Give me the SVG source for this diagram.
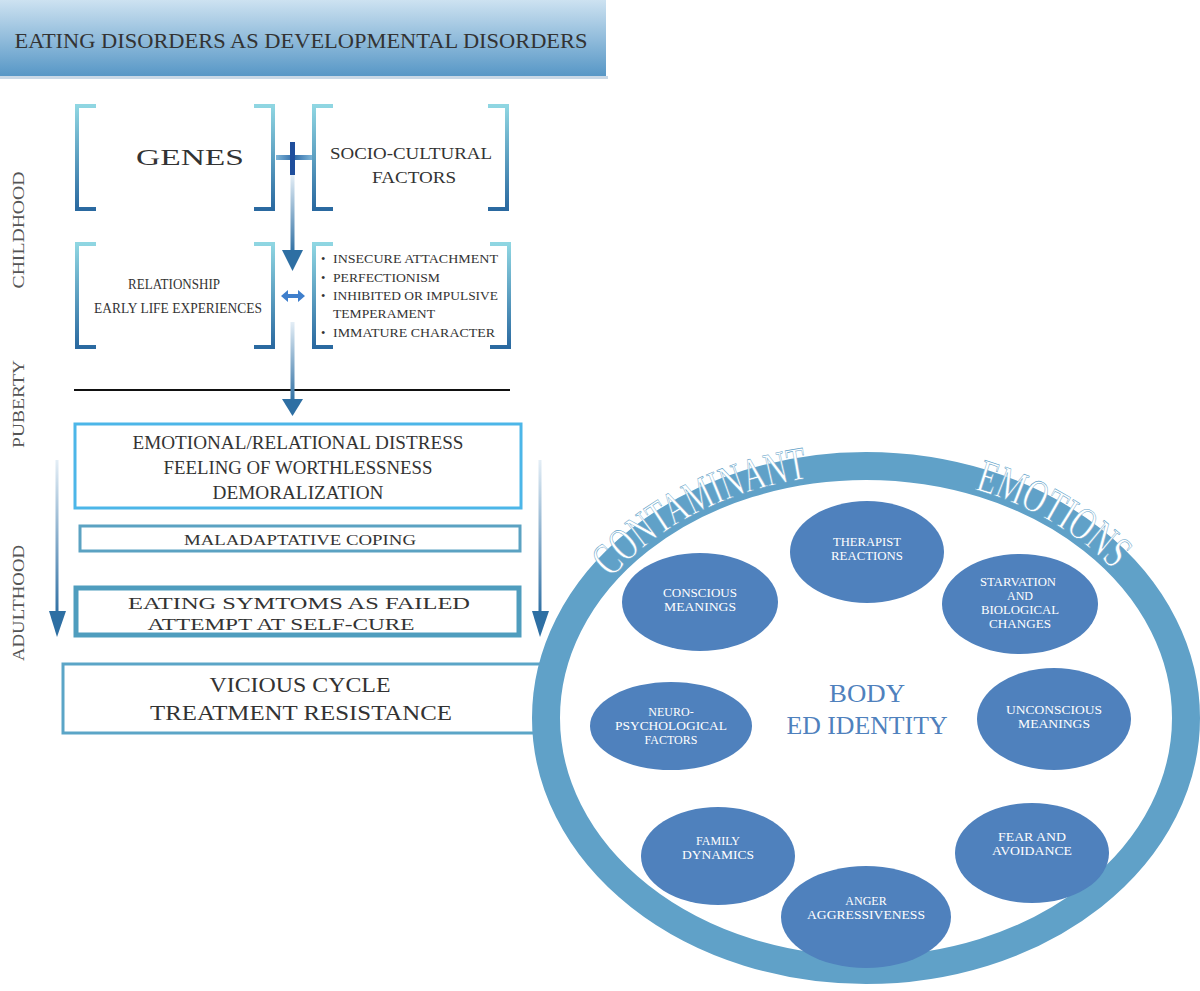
<svg xmlns="http://www.w3.org/2000/svg" width="1200" height="991" viewBox="0 0 1200 991">
<defs>
<linearGradient id="hdr" x1="0" y1="0" x2="0" y2="1"><stop offset="0" stop-color="#cde2f1"/><stop offset="1" stop-color="#5797c6"/></linearGradient>
<linearGradient id="brk" x1="0" y1="0" x2="0" y2="1"><stop offset="0" stop-color="#8fd6e2"/><stop offset="1" stop-color="#2a69a0"/></linearGradient>
<linearGradient id="shaft" x1="0" y1="0" x2="0" y2="1"><stop offset="0" stop-color="#e4eef6"/><stop offset="1" stop-color="#2e6fa3"/></linearGradient>
<linearGradient id="hbar" x1="0" y1="0" x2="1" y2="0"><stop offset="0" stop-color="#7fb6d8"/><stop offset="0.5" stop-color="#2f6aa8"/><stop offset="1" stop-color="#7fb6d8"/></linearGradient>
<path id="arc" d="M 556,716 A 310 242 0 0 1 1176,716"/>
<style>
text{font-family:'Liberation Serif','DejaVu Serif','Times New Roman',serif}
.t{fill:#333;text-anchor:middle}
.lbl{fill:#555;font-size:16px;text-anchor:middle}
.br{fill:none;stroke:url(#brk);stroke-width:4}
.ov{fill:#4f81bd}
.ot{fill:#fff;font-size:12px;text-anchor:middle}
.head{fill:#2e6fa3}
.rt{font-size:47px;fill:#fff;stroke:#60a1c8;stroke-width:0.6}
</style>
</defs>
<rect width="1200" height="991" fill="#fff"/>

<g id="header">
<rect x="0" y="76" width="608" height="3" fill="#c9d8e6"/>
<rect x="0" y="0" width="606" height="76" fill="url(#hdr)"/>
<text class="t" x="301" y="48" font-size="22" fill="#222" textLength="573" lengthAdjust="spacingAndGlyphs">EATING DISORDERS AS DEVELOPMENTAL DISORDERS</text>
</g>

<g id="stage-labels">
<text class="lbl" transform="translate(24,230) rotate(-90)" textLength="117" lengthAdjust="spacingAndGlyphs">CHILDHOOD</text>
<text class="lbl" transform="translate(24,404) rotate(-90)" textLength="88" lengthAdjust="spacingAndGlyphs">PUBERTY</text>
<text class="lbl" transform="translate(24,603) rotate(-90)" textLength="116" lengthAdjust="spacingAndGlyphs">ADULTHOOD</text>
</g>

<g id="genes">
<path class="br" d="M96,106 H77 V209 H96"/>
<path class="br" d="M254,106 H273 V209 H254"/>
<text class="t" x="190" y="165" font-size="23" textLength="108" lengthAdjust="spacingAndGlyphs">GENES</text>
</g>

<g id="socio">
<path class="br" d="M333,106 H314 V209 H333"/>
<path class="br" d="M488,106 H507 V209 H488"/>
<text class="t" x="411" y="159" font-size="17" textLength="162" lengthAdjust="spacingAndGlyphs">SOCIO-CULTURAL</text>
<text class="t" x="414" y="183" font-size="17" textLength="84" lengthAdjust="spacingAndGlyphs">FACTORS</text>
</g>

<g id="relationship">
<path class="br" d="M96,244 H77 V347 H96"/>
<path class="br" d="M254,244 H273 V347 H254"/>
<text class="t" x="174" y="289" font-size="14" textLength="92" lengthAdjust="spacingAndGlyphs">RELATIONSHIP</text>
<text class="t" x="178" y="313" font-size="14" textLength="168" lengthAdjust="spacingAndGlyphs">EARLY LIFE EXPERIENCES</text>
</g>

<g id="traits">
<path class="br" d="M333,244 H314 V347 H333"/>
<path class="br" d="M490,244 H509 V347 H490"/>
<g class="t" font-size="12.5" style="text-anchor:start">
<text x="321" y="263">•</text><text x="333" y="263" textLength="165" lengthAdjust="spacingAndGlyphs">INSECURE ATTACHMENT</text>
<text x="321" y="282">•</text><text x="333" y="282" textLength="107" lengthAdjust="spacingAndGlyphs">PERFECTIONISM</text>
<text x="321" y="300">•</text><text x="333" y="300" textLength="165" lengthAdjust="spacingAndGlyphs">INHIBITED OR IMPULSIVE</text>
<text x="333" y="318" textLength="102" lengthAdjust="spacingAndGlyphs">TEMPERAMENT</text>
<text x="321" y="337">•</text><text x="333" y="337" textLength="162" lengthAdjust="spacingAndGlyphs">IMMATURE CHARACTER</text>
</g>
</g>

<g id="puberty-line">
<line x1="74" y1="390" x2="510" y2="390" stroke="#111" stroke-width="2"/>
</g>

<g id="distress">
<rect x="75" y="424" width="446" height="84" fill="#fff" stroke="#4cb6e8" stroke-width="3"/>
<text class="t" x="298" y="449" font-size="18" textLength="331" lengthAdjust="spacingAndGlyphs">EMOTIONAL/RELATIONAL DISTRESS</text>
<text class="t" x="298" y="474" font-size="18" textLength="269" lengthAdjust="spacingAndGlyphs">FEELING OF WORTHLESSNESS</text>
<text class="t" x="298" y="499" font-size="18" textLength="171" lengthAdjust="spacingAndGlyphs">DEMORALIZATION</text>
</g>

<g id="coping">
<rect x="80" y="526" width="440" height="25" fill="#fff" stroke="#5ba2c2" stroke-width="3"/>
<text class="t" x="300" y="545" font-size="15.5" textLength="232" lengthAdjust="spacingAndGlyphs">MALADAPTATIVE COPING</text>
</g>

<g id="symptoms">
<rect x="76" y="588" width="443" height="47" fill="#fff" stroke="#4f9dbe" stroke-width="5"/>
<text class="t" x="299" y="609" font-size="16.5" textLength="342" lengthAdjust="spacingAndGlyphs">EATING SYMTOMS AS FAILED</text>
<text class="t" x="281" y="630" font-size="16.5" textLength="267" lengthAdjust="spacingAndGlyphs">ATTEMPT AT SELF-CURE</text>
</g>

<g id="vicious">
<rect x="63" y="664" width="500" height="69" fill="#fff" stroke="#5ba5c7" stroke-width="3"/>
<text class="t" x="300" y="692" font-size="21" textLength="181" lengthAdjust="spacingAndGlyphs">VICIOUS CYCLE</text>
<text class="t" x="301" y="720" font-size="21" textLength="302" lengthAdjust="spacingAndGlyphs">TREATMENT RESISTANCE</text>
</g>

<g id="connectors">
<rect x="276" y="155" width="36" height="5" fill="url(#hbar)"/>
<rect x="290" y="142" width="5" height="33" fill="#1f4e9c"/>
<rect x="290.5" y="175" width="4" height="78" fill="url(#shaft)"/>
<path class="head" d="M282,250 H303 L292.5,271 Z"/>
<path d="M281,296 L288,290 V294 H298 V290 L305,296 L298,302 V298 H288 V302 Z" fill="#3f7fcc"/>
<rect x="290.5" y="322" width="4" height="80" fill="url(#shaft)"/>
<path class="head" d="M282,399 H303 L292.5,416 Z"/>
<rect x="55.5" y="460" width="3" height="155" fill="url(#shaft)"/>
<path class="head" d="M49,611 H66 L57,637 Z"/>
<rect x="538.5" y="460" width="3" height="155" fill="url(#shaft)"/>
<path class="head" d="M532,611 H549 L540,637 Z"/>
</g>

<g id="ring">
<ellipse cx="866" cy="718" rx="320" ry="252" fill="#fff" stroke="#60a1c8" stroke-width="28"/>
<text class="rt"><textPath href="#arc" startOffset="152" textLength="225" lengthAdjust="spacingAndGlyphs">CONTAMINANT</textPath></text>
<text class="rt"><textPath href="#arc" startOffset="545" textLength="162" lengthAdjust="spacingAndGlyphs">EMOTIONS</textPath></text>
</g>

<g id="body">
<text class="t" x="867" y="702" font-size="26" style="fill:#4f81bd" textLength="76" lengthAdjust="spacingAndGlyphs">BODY</text>
<text class="t" x="867" y="734" font-size="26" style="fill:#4f81bd" textLength="161" lengthAdjust="spacingAndGlyphs">ED IDENTITY</text>
</g>

<g id="therapist"><ellipse class="ov" cx="867" cy="552" rx="77" ry="51"/>
<text class="ot" x="867" y="546" textLength="68" lengthAdjust="spacingAndGlyphs">THERAPIST</text><text class="ot" x="867" y="560" textLength="72" lengthAdjust="spacingAndGlyphs">REACTIONS</text></g>
<g id="conscious"><ellipse class="ov" cx="700" cy="602" rx="78" ry="49"/>
<text class="ot" x="700" y="597" textLength="74" lengthAdjust="spacingAndGlyphs">CONSCIOUS</text><text class="ot" x="700" y="611" textLength="72" lengthAdjust="spacingAndGlyphs">MEANINGS</text></g>
<g id="starvation"><ellipse class="ov" cx="1020" cy="604" rx="78" ry="50"/>
<text class="ot" x="1018" y="586" textLength="76" lengthAdjust="spacingAndGlyphs">STARVATION</text><text class="ot" x="1020" y="600">AND</text><text class="ot" x="1020" y="614" textLength="78" lengthAdjust="spacingAndGlyphs">BIOLOGICAL</text><text class="ot" x="1020" y="628" textLength="62" lengthAdjust="spacingAndGlyphs">CHANGES</text></g>
<g id="neuro"><ellipse class="ov" cx="671" cy="726" rx="81" ry="44"/>
<text class="ot" x="671" y="716">NEURO-</text><text class="ot" x="671" y="730" textLength="112" lengthAdjust="spacingAndGlyphs">PSYCHOLOGICAL</text><text class="ot" x="671" y="744">FACTORS</text></g>
<g id="unconscious"><ellipse class="ov" cx="1054" cy="719" rx="77" ry="51"/>
<text class="ot" x="1054" y="714" textLength="96" lengthAdjust="spacingAndGlyphs">UNCONSCIOUS</text><text class="ot" x="1054" y="728" textLength="72" lengthAdjust="spacingAndGlyphs">MEANINGS</text></g>
<g id="family"><ellipse class="ov" cx="718" cy="856" rx="77" ry="49"/>
<text class="ot" x="718" y="845">FAMILY</text><text class="ot" x="718" y="859" textLength="72" lengthAdjust="spacingAndGlyphs">DYNAMICS</text></g>
<g id="fear"><ellipse class="ov" cx="1032" cy="853" rx="77" ry="50"/>
<text class="ot" x="1032" y="841" textLength="68" lengthAdjust="spacingAndGlyphs">FEAR AND</text><text class="ot" x="1032" y="855" textLength="80" lengthAdjust="spacingAndGlyphs">AVOIDANCE</text></g>
<g id="anger"><ellipse class="ov" cx="866" cy="917" rx="85" ry="51"/>
<text class="ot" x="866" y="905">ANGER</text><text class="ot" x="866" y="919" textLength="118" lengthAdjust="spacingAndGlyphs">AGGRESSIVENESS</text></g>
</svg>
